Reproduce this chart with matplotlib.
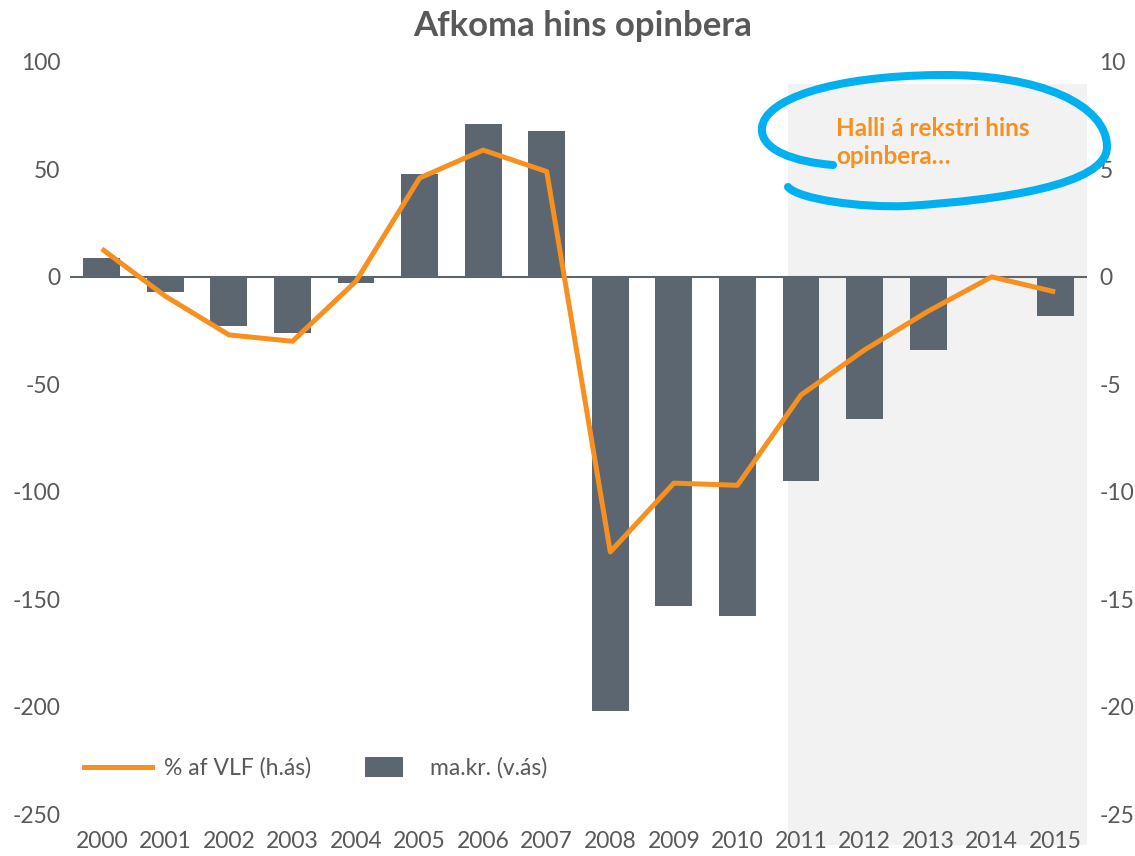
import numpy as np
import matplotlib
matplotlib.use("Agg")
import matplotlib.pyplot as plt
from matplotlib.patches import Rectangle, Patch, PathPatch
from matplotlib.path import Path
from matplotlib.lines import Line2D
from matplotlib.legend_handler import HandlerPatch
import matplotlib.transforms as mtransforms

plt.rcParams['font.family'] = ['Lato', 'DejaVu Sans']
plt.rcParams['axes.unicode_minus'] = False

years = ['2000', '2001', '2002', '2003', '2004', '2005', '2006', '2007',
         '2008', '2009', '2010', '2011', '2012', '2013', '2014', '2015']
# ma.kr. (left axis)
bars_bn = [9, -7, -23, -26, -3, 48, 71, 68, -202, -153, -158, -95, -66, -34, 0.6, -18]
# % af VLF (right axis)
pct_gdp = [1.3, -0.9, -2.7, -3.0, -0.2, 4.6, 5.9, 4.9, -12.8, -9.6, -9.7,
           -5.5, -3.4, -1.6, 0.0, -0.7]

grey = '#5b6670'
txt = '#595959'
orange = '#f7901e'
blue = '#00b0f0'

fig = plt.figure(figsize=(11.35, 8.56), dpi=100)
ax = fig.add_axes([0.0617, 0.049, 0.896, 0.8786])
ax.set_facecolor('none')
x = np.arange(len(years))

# shaded forecast area
shade = Rectangle((10.79, -0.041), 15.5 - 10.79, 1.012,
                  transform=mtransforms.blended_transform_factory(ax.transData, ax.transAxes),
                  facecolor='#f2f2f2', edgecolor='none', clip_on=False, zorder=0)
ax.add_patch(shade)

ax.bar(x, bars_bn, width=0.58, color=grey, zorder=2)
ax.axhline(0, color=grey, lw=1.5, zorder=1)
ax.set_xlim(-0.5, 15.5)
ax.set_ylim(-250, 100)
ax.set_yticks(range(-250, 101, 50))
ax.set_xticks(x)
ax.set_xticklabels(years)

ax2 = ax.twinx()
ax2.plot(x, pct_gdp, color=orange, lw=3.6, solid_capstyle='butt', zorder=3)
ax2.set_ylim(-25, 10)
ax2.set_yticks(range(-25, 11, 5))

for a in (ax, ax2):
    for s in a.spines.values():
        s.set_visible(False)
    a.tick_params(length=0, labelsize=16.5, colors=txt)
ax.tick_params(axis='y', pad=7)
ax.tick_params(axis='x', pad=12)
ax2.tick_params(axis='y', pad=9)

fig.suptitle('Afkoma hins opinbera', x=0.513, y=0.988, fontsize=25,
             fontweight='bold', color=txt)


def small_box(legend, orig_handle, xdescent, ydescent, width, height, fontsize):
    w = width * 0.55
    h = height * 1.25
    return Rectangle((xdescent + (width - w) / 2, ydescent - (h - height) / 2), w, h)


handles = [Line2D([0], [0], color=orange, lw=3.6),
           Patch(facecolor=grey)]
leg = ax.legend(handles, ['% af VLF (h.ás)', 'ma.kr. (v.ás)'], ncol=2,
                loc='center left', bbox_to_anchor=(-0.007, 0.061), frameon=False,
                fontsize=16.5, labelcolor=txt, handlelength=3.0,
                columnspacing=1.7, handletextpad=0.5,
                handler_map={Patch: HandlerPatch(patch_func=small_box)})

ax2.text(0.753, 0.893, 'Halli á rekstri hins\nopinbera…', transform=ax.transAxes,
         fontsize=17.5, fontweight='bold', color=orange, va='center', ha='left',
         linespacing=1.3, zorder=5)

# hand-drawn loop around the note (figure pixel coordinates, y down)
loop_pts = [(833, 165),
            (795, 162), (760, 150), (762, 128),
            (764, 100), (830, 76), (940, 75),
            (1040, 74), (1107, 105), (1107, 147),
            (1107, 185), (1000, 200), (907, 206),
            (860, 208), (798, 199), (788, 187)]
codes = [Path.MOVETO] + [Path.CURVE4] * 15
W, H = 1135, 856
verts = [(px / W, 1 - py / H) for px, py in loop_pts]
fig.add_artist(PathPatch(Path(verts, codes), facecolor='none', edgecolor=blue,
                         lw=5.8, capstyle='round', transform=fig.transFigure, zorder=6))

fig.savefig('out.png', dpi=100)
